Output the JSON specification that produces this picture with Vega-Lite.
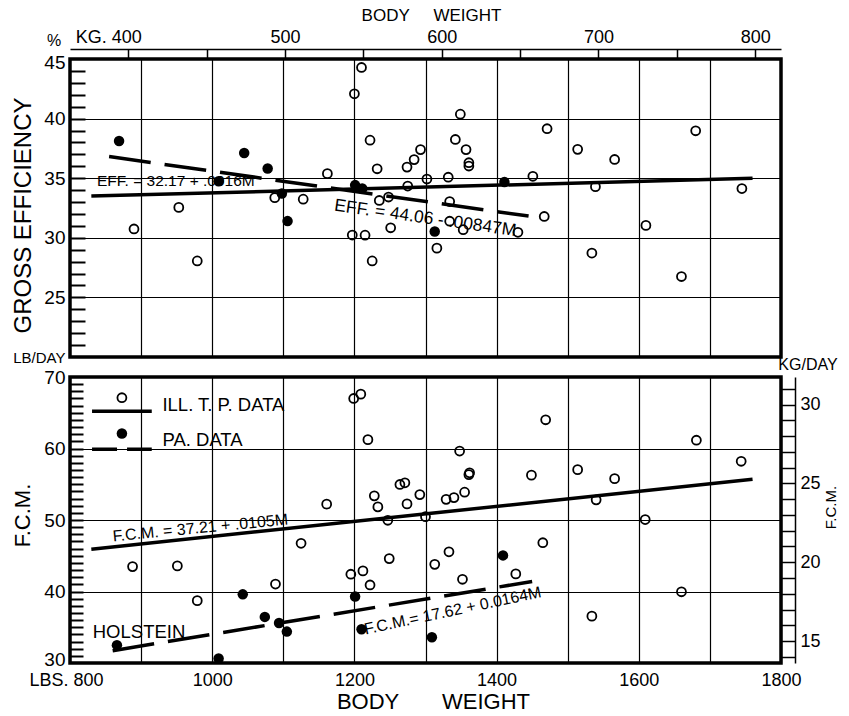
{
  "$schema": "https://vega.github.io/schema/vega-lite/v6.json",
  "padding": {"left": 9, "top": 4, "right": 0, "bottom": 0},
  "background": "white",
  "config": {
    "font": "Liberation Sans",
    "view": {"stroke": "black", "strokeWidth": 3.5},
    "axis": {"gridColor": "black", "gridWidth": 1.2, "gridOpacity": 1, "domainColor": "black", "tickColor": "black", "labelColor": "black", "titleColor": "black", "labelFont": "Liberation Sans", "titleFont": "Liberation Sans", "titleFontWeight": "normal", "labelFlush": false, "labelOverlap": false},
    "text": {"font": "Liberation Sans", "color": "black"}
  },
  "datasets": {
    "top_ill": [
      {"lb": 953, "eff": 32.55}, {"lb": 890, "eff": 30.74}, {"lb": 979, "eff": 28.06}, {"lb": 1210, "eff": 44.29},
      {"lb": 1200, "eff": 42.08}, {"lb": 1222, "eff": 38.19}, {"lb": 1293, "eff": 37.40}, {"lb": 1284, "eff": 36.56},
      {"lb": 1274, "eff": 35.93}, {"lb": 1232, "eff": 35.79}, {"lb": 1162, "eff": 35.38}, {"lb": 1302, "eff": 34.93},
      {"lb": 1275, "eff": 34.34}, {"lb": 1088, "eff": 33.37}, {"lb": 1128, "eff": 33.24}, {"lb": 1235, "eff": 33.13},
      {"lb": 1248, "eff": 33.42}, {"lb": 1251, "eff": 30.84}, {"lb": 1197, "eff": 30.23}, {"lb": 1215, "eff": 30.22},
      {"lb": 1316, "eff": 29.13}, {"lb": 1225, "eff": 28.06}, {"lb": 1349, "eff": 40.37}, {"lb": 1471, "eff": 39.15},
      {"lb": 1342, "eff": 38.25}, {"lb": 1357, "eff": 37.40}, {"lb": 1514, "eff": 37.42}, {"lb": 1566, "eff": 36.57},
      {"lb": 1361, "eff": 36.30}, {"lb": 1361, "eff": 36.02}, {"lb": 1332, "eff": 35.08}, {"lb": 1451, "eff": 35.16},
      {"lb": 1539, "eff": 34.29}, {"lb": 1334, "eff": 33.04}, {"lb": 1467, "eff": 31.79}, {"lb": 1334, "eff": 31.39},
      {"lb": 1353, "eff": 30.68}, {"lb": 1430, "eff": 30.46}, {"lb": 1534, "eff": 28.72}, {"lb": 1680, "eff": 38.98},
      {"lb": 1745, "eff": 34.13}, {"lb": 1610, "eff": 31.04}, {"lb": 1660, "eff": 26.75}
    ],
    "top_pa": [
      {"lb": 869, "eff": 38.12}, {"lb": 1045, "eff": 37.12}, {"lb": 1009, "eff": 34.74}, {"lb": 1078, "eff": 35.82},
      {"lb": 1098, "eff": 33.71}, {"lb": 1106, "eff": 31.40}, {"lb": 1201, "eff": 34.42}, {"lb": 1211, "eff": 34.14},
      {"lb": 1313, "eff": 30.53}, {"lb": 1411, "eff": 34.68}
    ],
    "bot_ill": [
      {"lb": 888, "fcm": 43.48}, {"lb": 951, "fcm": 43.58}, {"lb": 979, "fcm": 38.72}, {"lb": 1199, "fcm": 67.0},
      {"lb": 1209, "fcm": 67.6}, {"lb": 1219, "fcm": 61.24}, {"lb": 1161, "fcm": 52.22}, {"lb": 1264, "fcm": 54.97},
      {"lb": 1271, "fcm": 55.2}, {"lb": 1228, "fcm": 53.38}, {"lb": 1233, "fcm": 51.83}, {"lb": 1274, "fcm": 52.25},
      {"lb": 1292, "fcm": 53.55}, {"lb": 1247, "fcm": 49.96}, {"lb": 1300, "fcm": 50.46}, {"lb": 1125, "fcm": 46.74},
      {"lb": 1249, "fcm": 44.6}, {"lb": 1195, "fcm": 42.42}, {"lb": 1212, "fcm": 42.88}, {"lb": 1222, "fcm": 40.91},
      {"lb": 1089, "fcm": 41.04}, {"lb": 1313, "fcm": 43.8}, {"lb": 1469, "fcm": 64.02}, {"lb": 1348, "fcm": 59.64},
      {"lb": 1361, "fcm": 56.35}, {"lb": 1362, "fcm": 56.6}, {"lb": 1449, "fcm": 56.27}, {"lb": 1514, "fcm": 57.04},
      {"lb": 1566, "fcm": 55.78}, {"lb": 1329, "fcm": 52.89}, {"lb": 1340, "fcm": 53.13}, {"lb": 1355, "fcm": 53.89},
      {"lb": 1540, "fcm": 52.82}, {"lb": 1333, "fcm": 45.55}, {"lb": 1465, "fcm": 46.82}, {"lb": 1352, "fcm": 41.71},
      {"lb": 1427, "fcm": 42.46}, {"lb": 1534, "fcm": 36.55}, {"lb": 1681, "fcm": 61.16}, {"lb": 1744, "fcm": 58.21},
      {"lb": 1609, "fcm": 50.06}, {"lb": 1660, "fcm": 39.96}
    ],
    "bot_pa": [
      {"lb": 866, "fcm": 32.5}, {"lb": 1009, "fcm": 30.64}, {"lb": 1043, "fcm": 39.6}, {"lb": 1074, "fcm": 36.45},
      {"lb": 1094, "fcm": 35.59}, {"lb": 1105, "fcm": 34.39}, {"lb": 1201, "fcm": 39.29}, {"lb": 1210, "fcm": 34.72},
      {"lb": 1309, "fcm": 33.6}, {"lb": 1409, "fcm": 45.05}
    ]
  },
  "bounds": "flush",
  "spacing": 20,
  "vconcat": [
    {
      "width": 711,
      "height": 298,
      "resolve": {"axis": {"x": "independent", "y": "independent"}},
      "layer": [
        {
          "data": {"name": "top_ill"},
          "mark": {"type": "point", "filled": false, "stroke": "black", "strokeWidth": 1.8, "size": 80, "opacity": 1},
          "encoding": {
            "x": {"field": "lb", "type": "quantitative", "scale": {"domain": [800, 1800], "nice": false, "zero": false},
              "axis": {"orient": "bottom", "values": [900, 1000, 1100, 1200, 1300, 1400, 1500, 1600, 1700], "grid": true, "labels": false, "ticks": false, "domain": false, "title": null}},
            "y": {"field": "eff", "type": "quantitative", "scale": {"domain": [20, 45], "nice": false, "zero": false},
              "axis": {"orient": "left", "values": [20, 25, 30, 35, 40, 45], "grid": true, "ticks": false, "domain": false,
                "labelExpr": "datum.value == 20 ? 'LB/DAY' : '' + datum.value",
                "labelFontSize": {"condition": {"test": "datum.value == 20", "value": 15}, "value": 19},
                "labelOffset": {"condition": {"test": "datum.value == 45", "value": 3}, "value": 0},
                "labelPadding": 5,
                "title": "GROSS EFFICIENCY", "titleFontSize": 24, "titleX": -47, "titleY": 156, "titleAngle": 270, "titleBaseline": "middle", "titleAlign": "center"}}
          }
        },
        {
          "data": {"name": "top_pa"},
          "mark": {"type": "point", "filled": true, "color": "black", "size": 110, "opacity": 1},
          "encoding": {
            "x": {"field": "lb", "type": "quantitative", "scale": {"domain": [800, 1800], "nice": false, "zero": false},
              "axis": {"orient": "top", "values": [881.85, 992.08, 1102.31, 1212.54, 1322.77, 1433.0, 1543.24, 1653.47, 1763.7],
                "grid": false, "domain": true, "domainWidth": 1.5, "offset": 10, "ticks": true, "tickSize": -10, "tickWidth": 1.5,
                "labelExpr": "abs(datum.value - 881.85) < 1 ? 'KG. 400' : (round(datum.value / 2.20462) % 100 == 0 ? '' + round(datum.value / 2.20462) : '')",
                "labelFontSize": 18, "labelPadding": 13,
                "labelOffset": {"condition": {"test": "abs(datum.value - 881.85) < 1", "value": -20}, "value": 0},
                "title": "BODY\u00a0\u00a0\u00a0\u00a0\u00a0WEIGHT", "titleFontSize": 17, "titlePadding": 4, "titleX": 361}},
            "y": {"field": "eff", "type": "quantitative", "scale": {"domain": [20, 45], "nice": false, "zero": false},
              "axis": {"orient": "left", "values": [21, 22, 23, 24, 25, 26, 27, 28, 29, 30, 31, 32, 33, 34, 35, 36, 37, 38, 39, 40, 41, 42, 43, 44],
                "ticks": true, "tickSize": -15, "tickWidth": 2, "labels": false, "grid": false, "domain": false, "title": null}}
          }
        },
        {
          "data": {"values": [{"lb": 830, "eff": 33.498}, {"lb": 1760, "eff": 34.986}]},
          "mark": {"type": "line", "color": "black", "strokeWidth": 3.5},
          "encoding": {
            "x": {"field": "lb", "type": "quantitative", "scale": {"domain": [800, 1800], "nice": false, "zero": false}, "axis": null},
            "y": {"field": "eff", "type": "quantitative", "scale": {"domain": [20, 45], "nice": false, "zero": false}, "axis": null}
          }
        },
        {
          "data": {"values": [{"lb": 855, "eff": 36.818}, {"lb": 1445, "eff": 31.82}]},
          "mark": {"type": "line", "color": "black", "strokeWidth": 3.5, "strokeDash": [42, 14]},
          "encoding": {
            "x": {"field": "lb", "type": "quantitative", "scale": {"domain": [800, 1800], "nice": false, "zero": false}, "axis": null},
            "y": {"field": "eff", "type": "quantitative", "scale": {"domain": [20, 45], "nice": false, "zero": false}, "axis": null}
          }
        },
        {
          "data": {"values": [{"lb": 838, "eff": 34.75, "label": "EFF. = 32.17 + .0016M"}]},
          "mark": {"type": "text", "align": "left", "baseline": "middle", "fontSize": 15.5},
          "encoding": {
            "x": {"field": "lb", "type": "quantitative", "scale": {"domain": [800, 1800], "nice": false, "zero": false}, "axis": null},
            "y": {"field": "eff", "type": "quantitative", "scale": {"domain": [20, 45], "nice": false, "zero": false}, "axis": null},
            "text": {"field": "label"}
          }
        },
        {
          "data": {"values": [{"lb": 1172, "eff": 32.7, "label": "EFF. = 44.06 - .00847M"}]},
          "mark": {"type": "text", "align": "left", "baseline": "middle", "fontSize": 17.5, "angle": 8},
          "encoding": {
            "x": {"field": "lb", "type": "quantitative", "scale": {"domain": [800, 1800], "nice": false, "zero": false}, "axis": null},
            "y": {"field": "eff", "type": "quantitative", "scale": {"domain": [20, 45], "nice": false, "zero": false}, "axis": null},
            "text": {"field": "label"}
          }
        },
        {
          "data": {"values": [{"lb": 800, "eff": 45, "label": "%"}]},
          "mark": {"type": "text", "align": "center", "baseline": "middle", "fontSize": 16, "dx": -16, "dy": -18},
          "encoding": {
            "x": {"field": "lb", "type": "quantitative", "scale": {"domain": [800, 1800], "nice": false, "zero": false}, "axis": null},
            "y": {"field": "eff", "type": "quantitative", "scale": {"domain": [20, 45], "nice": false, "zero": false}, "axis": null},
            "text": {"field": "label"}
          }
        }
      ]
    },
    {
      "width": 711,
      "height": 286,
      "resolve": {"scale": {"y": "independent"}, "axis": {"x": "independent", "y": "independent"}},
      "layer": [
        {
          "data": {"name": "bot_ill"},
          "mark": {"type": "point", "filled": false, "stroke": "black", "strokeWidth": 1.8, "size": 80, "opacity": 1},
          "encoding": {
            "x": {"field": "lb", "type": "quantitative", "scale": {"domain": [800, 1800], "nice": false, "zero": false},
              "axis": {"orient": "bottom", "values": [800, 900, 1000, 1100, 1200, 1300, 1400, 1500, 1600, 1700, 1800], "grid": true, "ticks": false, "domain": false,
                "labelExpr": "datum.value % 200 == 0 ? (datum.value == 800 ? 'LBS. 800' : '' + datum.value) : ''",
                "labelFontSize": 18, "labelPadding": 8,
                "labelOffset": {"condition": {"test": "datum.value == 800", "value": -4}, "value": 0},
                "title": "BODY\u00a0\u00a0\u00a0\u00a0\u00a0\u00a0\u00a0WEIGHT", "titleFontSize": 22, "titlePadding": 2, "titleX": 363}},
            "y": {"field": "fcm", "type": "quantitative", "scale": {"domain": [30, 70], "nice": false, "zero": false},
              "axis": {"orient": "left", "values": [30, 40, 50, 60, 70], "grid": true, "ticks": false, "domain": false,
                "labelFontSize": 19, "labelPadding": 5,
                "labelOffset": {"condition": {"test": "datum.value == 30", "value": -4}, "value": 0},
                "title": "F.C.M.", "titleFontSize": 22, "titleX": -48, "titleY": 138, "titleAngle": 270, "titleBaseline": "middle", "titleAlign": "center"}}
          }
        },
        {
          "data": {"name": "bot_pa"},
          "mark": {"type": "point", "filled": true, "color": "black", "size": 110, "opacity": 1},
          "encoding": {
            "x": {"field": "lb", "type": "quantitative", "scale": {"domain": [800, 1800], "nice": false, "zero": false}, "axis": null},
            "y": {"field": "fcm", "type": "quantitative", "scale": {"domain": [30, 70], "nice": false, "zero": false},
              "axis": {"orient": "left", "values": [31, 32, 33, 34, 35, 36, 37, 38, 39, 40, 41, 42, 43, 44, 45, 46, 47, 48, 49, 50, 51, 52, 53, 54, 55, 56, 57, 58, 59, 60, 61, 62, 63, 64, 65, 66, 67, 68, 69],
                "ticks": true, "tickSize": -13, "tickWidth": 2, "labels": false, "grid": false, "domain": false, "title": null}}
          }
        },
        {
          "data": {"values": [{"lb": 830, "fcm": 45.925}, {"lb": 1760, "fcm": 55.69}]},
          "mark": {"type": "line", "color": "black", "strokeWidth": 3.5},
          "encoding": {
            "x": {"field": "lb", "type": "quantitative", "scale": {"domain": [800, 1800], "nice": false, "zero": false}, "axis": null},
            "y": {"field": "fcm", "type": "quantitative", "scale": {"domain": [30, 70], "nice": false, "zero": false}, "axis": null}
          }
        },
        {
          "data": {"values": [{"lb": 860, "fcm": 31.724}, {"lb": 1450, "fcm": 41.4}]},
          "mark": {"type": "line", "color": "black", "strokeWidth": 3.5, "strokeDash": [42, 14]},
          "encoding": {
            "x": {"field": "lb", "type": "quantitative", "scale": {"domain": [800, 1800], "nice": false, "zero": false}, "axis": null},
            "y": {"field": "fcm", "type": "quantitative", "scale": {"domain": [30, 70], "nice": false, "zero": false}, "axis": null}
          }
        },
        {
          "data": {"values": [{"lb": 831, "fcm": 65.2}, {"lb": 915, "fcm": 65.2}]},
          "mark": {"type": "line", "color": "black", "strokeWidth": 3.5},
          "encoding": {
            "x": {"field": "lb", "type": "quantitative", "scale": {"domain": [800, 1800], "nice": false, "zero": false}, "axis": null},
            "y": {"field": "fcm", "type": "quantitative", "scale": {"domain": [30, 70], "nice": false, "zero": false}, "axis": null}
          }
        },
        {
          "data": {"values": [{"lb": 831, "fcm": 59.9}, {"lb": 915, "fcm": 59.9}]},
          "mark": {"type": "line", "color": "black", "strokeWidth": 3.5, "strokeDash": [25, 10]},
          "encoding": {
            "x": {"field": "lb", "type": "quantitative", "scale": {"domain": [800, 1800], "nice": false, "zero": false}, "axis": null},
            "y": {"field": "fcm", "type": "quantitative", "scale": {"domain": [30, 70], "nice": false, "zero": false}, "axis": null}
          }
        },
        {
          "data": {"values": [{"lb": 873, "fcm": 67.1}]},
          "mark": {"type": "point", "filled": false, "stroke": "black", "strokeWidth": 1.8, "size": 80, "opacity": 1},
          "encoding": {
            "x": {"field": "lb", "type": "quantitative", "scale": {"domain": [800, 1800], "nice": false, "zero": false}, "axis": null},
            "y": {"field": "fcm", "type": "quantitative", "scale": {"domain": [30, 70], "nice": false, "zero": false}, "axis": null}
          }
        },
        {
          "data": {"values": [{"lb": 873, "fcm": 62.1}]},
          "mark": {"type": "point", "filled": true, "color": "black", "size": 110, "opacity": 1},
          "encoding": {
            "x": {"field": "lb", "type": "quantitative", "scale": {"domain": [800, 1800], "nice": false, "zero": false}, "axis": null},
            "y": {"field": "fcm", "type": "quantitative", "scale": {"domain": [30, 70], "nice": false, "zero": false}, "axis": null}
          }
        },
        {
          "data": {"values": [{"lb": 930, "fcm": 66.1, "label": "ILL. T. P. DATA"}, {"lb": 930, "fcm": 61.2, "label": "PA. DATA"}, {"lb": 832, "fcm": 34.3, "label": "HOLSTEIN"}]},
          "mark": {"type": "text", "align": "left", "baseline": "middle", "fontSize": 18.5},
          "encoding": {
            "x": {"field": "lb", "type": "quantitative", "scale": {"domain": [800, 1800], "nice": false, "zero": false}, "axis": null},
            "y": {"field": "fcm", "type": "quantitative", "scale": {"domain": [30, 70], "nice": false, "zero": false}, "axis": null},
            "text": {"field": "label"}
          }
        },
        {
          "data": {"values": [{"lb": 860, "fcm": 47.7, "label": "F.C.M. = 37.21 + .0105M"}]},
          "mark": {"type": "text", "align": "left", "baseline": "middle", "fontSize": 16, "angle": -5.5},
          "encoding": {
            "x": {"field": "lb", "type": "quantitative", "scale": {"domain": [800, 1800], "nice": false, "zero": false}, "axis": null},
            "y": {"field": "fcm", "type": "quantitative", "scale": {"domain": [30, 70], "nice": false, "zero": false}, "axis": null},
            "text": {"field": "label"}
          }
        },
        {
          "data": {"values": [{"lb": 1214, "fcm": 34.67, "label": "F.C.M.= 17.62 + 0.0164M"}]},
          "mark": {"type": "text", "align": "left", "baseline": "middle", "fontSize": 16, "angle": -12},
          "encoding": {
            "x": {"field": "lb", "type": "quantitative", "scale": {"domain": [800, 1800], "nice": false, "zero": false}, "axis": null},
            "y": {"field": "fcm", "type": "quantitative", "scale": {"domain": [30, 70], "nice": false, "zero": false}, "axis": null},
            "text": {"field": "label"}
          }
        },
        {
          "data": {"values": [{"lb": 1800, "fcm": 70, "label": "KG/DAY"}]},
          "mark": {"type": "text", "align": "center", "baseline": "middle", "fontSize": 16, "dx": 27, "dy": -12},
          "encoding": {
            "x": {"field": "lb", "type": "quantitative", "scale": {"domain": [800, 1800], "nice": false, "zero": false}, "axis": null},
            "y": {"field": "fcm", "type": "quantitative", "scale": {"domain": [30, 70], "nice": false, "zero": false}, "axis": null},
            "text": {"field": "label"}
          }
        },
        {
          "data": {"values": [{"kg": 13.608}, {"kg": 31.752}]},
          "mark": {"type": "point", "opacity": 0},
          "encoding": {
            "y": {"field": "kg", "type": "quantitative", "scale": {"domain": [13.6078, 31.7515], "nice": false, "zero": false},
              "axis": {"orient": "right", "values": [14, 15, 16, 17, 18, 19, 20, 21, 22, 23, 24, 25, 26, 27, 28, 29, 30, 31],
                "grid": false, "domain": true, "domainWidth": 1.5, "offset": 14, "ticks": true, "tickSize": -14, "tickWidth": 1.5,
                "labelExpr": "datum.value % 5 == 0 ? '' + datum.value : ''", "labelFontSize": 18, "labelPadding": 19,
                "title": "F.C.M.", "titleFontSize": 15, "titleX": 35, "titleY": 130, "titleAngle": 270, "titleBaseline": "middle", "titleAlign": "center"}}
          }
        }
      ]
    }
  ]
}
